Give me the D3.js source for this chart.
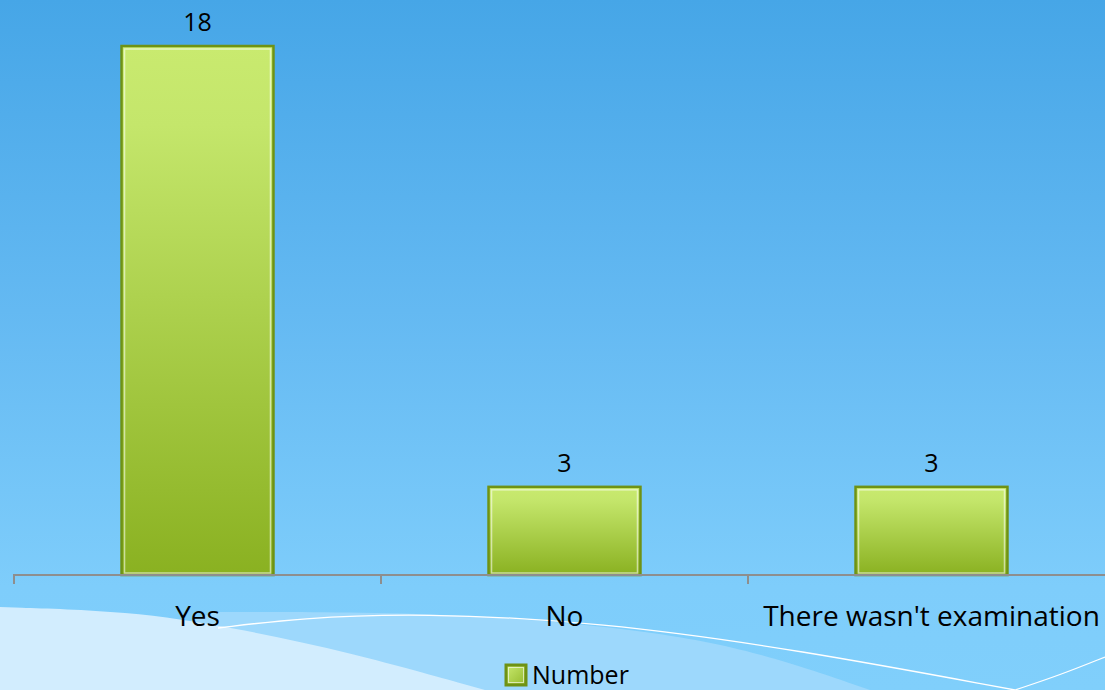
<!DOCTYPE html>
<html>
<head>
<meta charset="utf-8">
<script src="https://cdn.jsdelivr.net/npm/d3@7"></script>
<style>
  html, body { margin: 0; padding: 0; overflow: hidden; }
  svg { display: block; }
</style>
</head>
<body>
<svg id="chart" width="1105" height="690"></svg>
<script>
const categories = ["Yes", "No", "There wasn't examination"];
const values = [18, 3, 3];
const seriesName = "Number";

const width = 1105;
const height = 690;
const font = "'Open Sans', 'Noto Sans', sans-serif";

const svg = d3.select("#chart");
const defs = svg.append("defs");

// background gradient
const bg = defs.append("linearGradient").attr("id", "bg")
  .attr("x1", 0).attr("y1", 0).attr("x2", 0).attr("y2", 1);
bg.append("stop").attr("offset", "0%").attr("stop-color", "#46a6e7");
bg.append("stop").attr("offset", "45%").attr("stop-color", "#64b9f2");
bg.append("stop").attr("offset", "85%").attr("stop-color", "#7ecdfb");
bg.append("stop").attr("offset", "100%").attr("stop-color", "#80cffb");

const barGrad = defs.append("linearGradient").attr("id", "barGrad")
  .attr("x1", 0).attr("y1", 0).attr("x2", 0).attr("y2", 1);
barGrad.append("stop").attr("offset", "0%").attr("stop-color", "#c9ea6f");
barGrad.append("stop").attr("offset", "15%").attr("stop-color", "#c4e66b");
barGrad.append("stop").attr("offset", "100%").attr("stop-color", "#8ab121");

const legGrad = defs.append("linearGradient").attr("id", "legGrad")
  .attr("x1", 0).attr("y1", 0).attr("x2", 1).attr("y2", 1);
legGrad.append("stop").attr("offset", "0%").attr("stop-color", "#c9ea6f");
legGrad.append("stop").attr("offset", "100%").attr("stop-color", "#93b92c");

svg.append("rect").attr("width", width).attr("height", height).attr("fill", "url(#bg)");

// decorative waves at the bottom
const curve = d3.line().curve(d3.curveBasis);
svg.append("path")
  .attr("d", curve([[215, 612], [450, 612], [650, 630], [760, 652], [870, 690]]) + "L0,690Z")
  .attr("fill", "#9dd8fc");
svg.append("path")
  .attr("d", curve([[0, 607], [130, 611], [230, 627], [350, 652], [485, 690]]) + "L0,690Z")
  .attr("fill", "#d2edfe");
svg.append("path")
  .attr("d", curve([[218, 628], [300, 618], [420, 613], [600, 622], [800, 650], [1015, 690]]))
  .attr("fill", "none").attr("stroke", "#ffffff").attr("stroke-width", 1.3);
svg.append("path")
  .attr("d", curve([[1015, 690], [1060, 675], [1105, 657]]))
  .attr("fill", "none").attr("stroke", "#ffffff").attr("stroke-width", 1.3);

// scales
const x = d3.scaleBand().domain(categories).range([14, 1115]).padding(0);
const y = d3.scaleLinear().domain([0, 18]).range([575, 46]);
const barW = x.bandwidth() * 0.414;

// bars
const bars = svg.append("g").selectAll("g")
  .data(categories.map((c, i) => ({ c, v: values[i] })))
  .join("g");

bars.append("rect")
  .attr("x", d => x(d.c) + (x.bandwidth() - barW) / 2)
  .attr("y", d => y(d.v))
  .attr("width", barW)
  .attr("height", d => y(0) - y(d.v))
  .attr("fill", "url(#barGrad)")
  .attr("stroke", "#6f9214")
  .attr("stroke-width", 2.5);

bars.append("rect")
  .attr("x", d => x(d.c) + (x.bandwidth() - barW) / 2 + 3)
  .attr("y", d => y(d.v) + 3)
  .attr("width", barW - 6)
  .attr("height", d => y(0) - y(d.v) - 5)
  .attr("fill", "none")
  .attr("stroke", "rgba(255,255,255,0.55)")
  .attr("stroke-width", 1.5);

bars.append("text")
  .attr("x", d => x(d.c) + x.bandwidth() / 2)
  .attr("y", d => y(d.v) - 15)
  .attr("text-anchor", "middle")
  .attr("font-family", font)
  .attr("font-size", 25)
  .attr("fill", "#000")
  .text(d => d.v);

// axis
const axis = d3.axisBottom(x).tickSize(8).tickSizeOuter(8).tickFormat("");
const ax = svg.append("g").attr("transform", `translate(0,${y(0)})`).call(axis);
ax.select(".domain").attr("stroke", "#8e8e8e").attr("stroke-width", 2)
  .attr("d", `M14,8V0H1115V8`);
ax.selectAll(".tick").remove();
const tickPos = categories.map(c => x(c)).concat([x(categories[categories.length - 1]) + x.bandwidth()]);
ax.selectAll("line.tk").data(tickPos).join("line").attr("class", "tk")
  .attr("x1", d => d).attr("x2", d => d).attr("y1", 0).attr("y2", 9)
  .attr("stroke", "#8e8e8e").attr("stroke-width", 2);

svg.append("g").selectAll("text")
  .data(categories)
  .join("text")
  .attr("x", d => x(d) + x.bandwidth() / 2)
  .attr("y", 626)
  .attr("text-anchor", "middle")
  .attr("font-family", font)
  .attr("font-size", 28)
  .attr("fill", "#000")
  .text(d => d);

// legend
const leg = svg.append("g").attr("transform", "translate(506,665)");
leg.append("rect").attr("width", 20).attr("height", 20)
  .attr("fill", "url(#legGrad)").attr("stroke", "#6f9214").attr("stroke-width", 3);
leg.append("rect").attr("x", 2.5).attr("y", 2.5).attr("width", 15).attr("height", 15)
  .attr("fill", "none").attr("stroke", "rgba(255,255,255,0.6)").attr("stroke-width", 1);
leg.append("text").attr("x", 26).attr("y", 19)
  .attr("font-family", font).attr("font-size", 25).attr("fill", "#000")
  .text(seriesName);
</script>
</body>
</html>
